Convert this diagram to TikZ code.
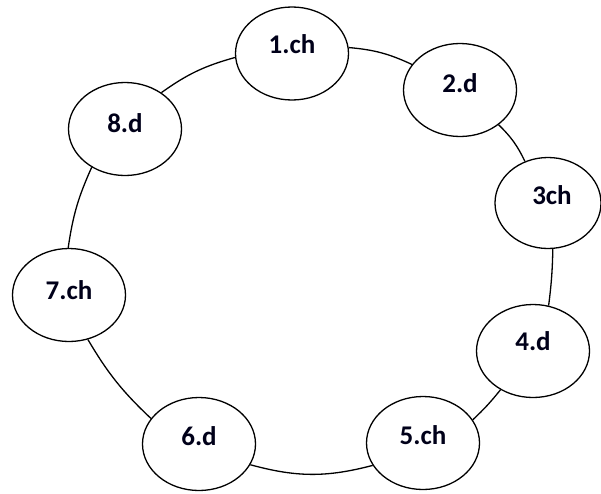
\documentclass[tikz,border=0pt]{standalone}
\usepackage{fontspec}
\setmainfont{Carlito}
\usetikzlibrary{shapes.geometric}
\begin{document}
\begin{tikzpicture}[x=1pt,y=-1pt,
  nodeell/.style={ellipse,draw=black,line width=1.3pt,minimum width=113pt,minimum height=93pt,inner sep=0pt},
  lbl/.style={font=\fontsize{27}{30}\selectfont\bfseries,text=black!90!blue,inner sep=0pt},
  conn/.style={draw=black,line width=1.3pt}]
\useasboundingbox (0,0) rectangle (601,493);
\node[nodeell] (e1) at (292,53.5) {};
\node[nodeell] (e2) at (460,90) {};
\node[nodeell,minimum width=106pt,minimum height=91pt] (e3) at (548,203) {};
\node[nodeell] (e4) at (533,351) {};
\node[nodeell] (e5) at (423,443) {};
\node[nodeell] (e6) at (199,444) {};
\node[nodeell] (e7) at (69,295) {};
\node[nodeell] (e8) at (125,129) {};
\node[lbl] (t1) at ([yshift=9pt]e1.center) {1.ch};
\node[lbl] (t2) at ([yshift=7pt]e2.center) {2.d};
\node[lbl] (t3) at ([xshift=4pt,yshift=8pt]e3.center) {3ch};
\node[lbl] (t4) at ([yshift=10pt]e4.center) {4.d};
\node[lbl] (t5) at ([yshift=8pt]e5.center) {5.ch};
\node[lbl] (t6) at ([yshift=8pt]e6.center) {6.d};
\node[lbl] (t7) at ([yshift=5pt]e7.center) {7.ch};
\node[lbl] (t8) at ([yshift=6pt]e8.center) {8.d};
\draw[conn] (e1.6) to[bend left=10] (e2.152);
\draw[conn] (e2.318) to[bend left=10] (e3.119);
\draw[conn] (e3.276) to[bend left=3] (e4.71);
\draw[conn] (e4.230) to[bend left=4] (e5.25);
\draw[conn] (e5.204) to[bend left=15] (e6.338);
\draw[conn] (e6.152) to[bend left=8] (e7.293);
\draw[conn] (e7.91) to[bend left=8] (e8.229);
\draw[conn] (e8.45) to[bend left=10] (e1.184);
\end{tikzpicture}
\end{document}
